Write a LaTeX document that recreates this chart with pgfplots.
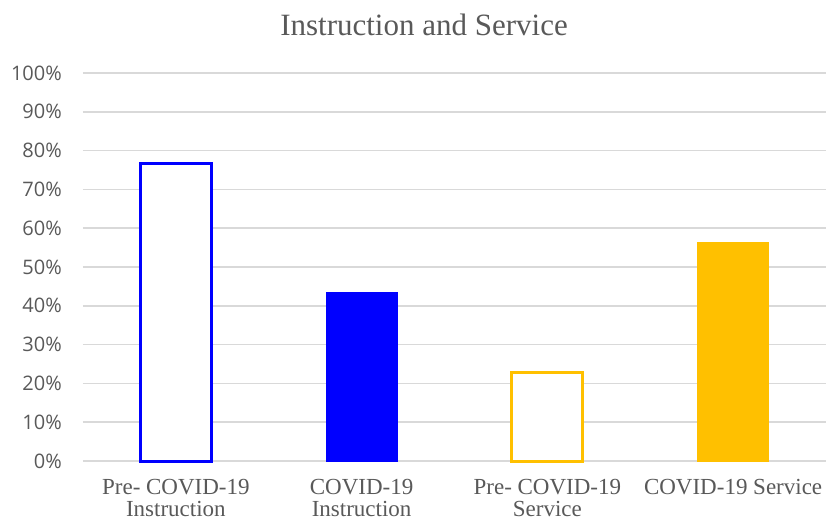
\documentclass[border=0pt]{standalone}
\usepackage{pgfplots}
\pgfplotsset{compat=1.18}
\usepackage{fontspec}
\setmainfont{Liberation Serif}
\newfontfamily\tickfont{Open Sans}
\definecolor{txt}{HTML}{595959}
\definecolor{gridc}{HTML}{D9D9D9}
\definecolor{bblue}{HTML}{0000FF}
\definecolor{bgold}{HTML}{FFC000}
\begin{document}
\begin{tikzpicture}
\useasboundingbox (-83pt,-61pt) rectangle (744pt,461pt);
\begin{axis}[
  at={(0,0)}, anchor=south west,
  scale only axis,
  width=743pt, height=388pt,
  xmin=-0.5, xmax=3.5,
  ymin=0, ymax=100,
  ytick={0,10,...,100},
  xtick={0,1,2,3},
  xticklabels={{Pre- COVID-19\\Instruction},{COVID-19\\Instruction},{Pre- COVID-19\\Service},{COVID-19 Service}},
  x tick label style={font=\fontsize{23}{22}\selectfont, text=txt, align=center, anchor=north, inner sep=0pt, yshift=-18pt},
  yticklabel={\pgfmathprintnumber{\tick}\%},
  y tick label style={font=\tickfont\fontsize{20}{24}\selectfont, text=txt, anchor=east, inner sep=0pt, xshift=-21pt},
  /pgf/number format/assume math mode=true,
  major tick length=0pt,
  axis line style={draw=none},
  ymajorgrids,
  major grid style={line width=1.5pt, color=gridc},
  title={Instruction and Service},
  title style={font=\fontsize{31}{32}\selectfont, text=txt, at={(0.459,1)}, anchor=base, yshift=31pt, inner sep=0pt},
  ybar, bar width=71pt, bar shift=0pt,
  clip=false,
]
\addplot[draw=bblue, fill=white, line width=3pt] coordinates {(0,76.8)};
\addplot[draw=bblue, fill=bblue, line width=0pt] coordinates {(1,43.5)};
\addplot[draw=bgold, fill=white, line width=3pt] coordinates {(2,22.9)};
\addplot[draw=bgold, fill=bgold, line width=0pt] coordinates {(3,56.3)};
\end{axis}
\end{tikzpicture}
\end{document}
